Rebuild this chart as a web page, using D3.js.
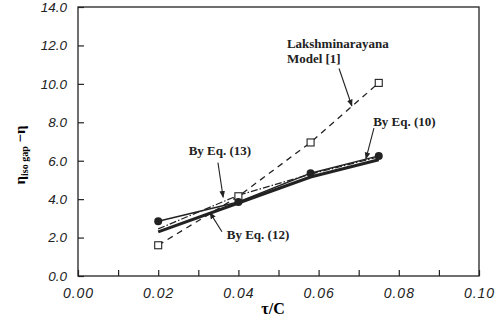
<!DOCTYPE html>
<html>
<head>
<meta charset="utf-8">
<script src="https://cdn.jsdelivr.net/npm/d3@7"></script>
<style>
  body { margin: 0; background: #fff; }
  svg { display: block; }
</style>
</head>
<body>
<div id="chart"></div>
<script>
// tau/C positions of the computed cases
const tau = [0.02, 0.04, 0.058, 0.075];
// eta_iso gap - eta for each model
const lakshmi = [1.6, 4.15, 6.95, 10.05];
const eq10 = [2.85, 3.85, 5.35, 6.25];
const eq12 = [2.3, 3.8, 5.15, 6.05];
const eq13 = [2.45, 4.2, 5.3, 6.2];

const xTicks = [0.00, 0.02, 0.04, 0.06, 0.08, 0.10];
const xMinor = [0.01, 0.03, 0.05, 0.07, 0.09];
const yTicks = [0, 2, 4, 6, 8, 10, 12, 14];

const W = 504, H = 327;
const plot = { left: 78, right: 479, top: 7, bottom: 276 };

const svg = d3.select("#chart").append("svg")
  .attr("width", W)
  .attr("height", H);

const x = d3.scaleLinear().domain([0, 0.1]).range([plot.left, plot.right]);
const y = d3.scaleLinear().domain([0, 14]).range([plot.bottom, plot.top]);

const ink = "#222";

// frame
svg.append("rect")
  .attr("x", plot.left)
  .attr("y", plot.top)
  .attr("width", plot.right - plot.left)
  .attr("height", plot.bottom - plot.top)
  .attr("fill", "none")
  .attr("stroke", ink)
  .attr("stroke-width", 1.3);

// bottom axis, ticks pointing inward
const xAxis = svg.append("g")
  .attr("transform", `translate(0,${plot.bottom})`)
  .call(d3.axisBottom(x)
    .tickValues(xTicks.concat(xMinor))
    .tickSizeInner(-6)
    .tickSizeOuter(0)
    .tickPadding(12)
    .tickFormat(d => xTicks.some(t => Math.abs(t - d) < 1e-9) ? d3.format(".2f")(d) : ""));
xAxis.select(".domain").remove();
xAxis.selectAll("line").attr("stroke", ink).attr("stroke-width", 1.2);
xAxis.selectAll("text")
  .attr("fill", ink)
  .style("font-family", "'Liberation Sans', Arial, sans-serif")
  .style("font-style", "italic")
  .style("font-size", "14px")
  .style("letter-spacing", "1px");

// left axis
const yAxis = svg.append("g")
  .attr("transform", `translate(${plot.left},0)`)
  .call(d3.axisLeft(y)
    .tickValues(yTicks)
    .tickSizeInner(-6)
    .tickSizeOuter(0)
    .tickPadding(11)
    .tickFormat(d3.format(".1f")));
yAxis.select(".domain").remove();
yAxis.selectAll("line").attr("stroke", ink).attr("stroke-width", 1.2);
yAxis.selectAll("text")
  .attr("fill", ink)
  .style("font-family", "'Liberation Sans', Arial, sans-serif")
  .style("font-style", "italic")
  .style("font-size", "13.5px");

// axis titles
svg.append("text")
  .attr("x", 273)
  .attr("y", 314)
  .attr("text-anchor", "middle")
  .style("font-family", "'Liberation Serif', serif")
  .style("font-weight", "bold")
  .style("font-size", "16px")
  .text("τ/C");

const yt = svg.append("text")
  .attr("transform", "translate(25,155) rotate(-90)")
  .attr("text-anchor", "middle")
  .style("font-family", "'Liberation Serif', serif")
  .style("font-weight", "bold")
  .style("font-size", "15px");
yt.append("tspan").text("η");
yt.append("tspan").attr("dy", 3).style("font-size", "10px").text("iso gap");
yt.append("tspan").attr("dy", -3).text(" −η");

// series
const pts = arr => tau.map((t, i) => [t, arr[i]]);
const line = d3.line().x(d => x(d[0])).y(d => y(d[1]));

svg.append("path")
  .attr("d", line(pts(lakshmi)))
  .attr("fill", "none")
  .attr("stroke", ink)
  .attr("stroke-width", 1.3)
  .attr("stroke-dasharray", "6,5");

svg.append("path")
  .attr("d", line(pts(eq12)))
  .attr("fill", "none")
  .attr("stroke", ink)
  .attr("stroke-width", 3);

svg.append("path")
  .attr("d", line(pts(eq13)))
  .attr("fill", "none")
  .attr("stroke", ink)
  .attr("stroke-width", 1.2)
  .attr("stroke-dasharray", "7,2,1.5,2");

svg.append("path")
  .attr("d", line(pts(eq10)))
  .attr("fill", "none")
  .attr("stroke", ink)
  .attr("stroke-width", 1.4);

svg.selectAll("rect.lak")
  .data(pts(lakshmi))
  .join("rect")
  .attr("class", "lak")
  .attr("x", d => x(d[0]) - 3.5)
  .attr("y", d => y(d[1]) - 3.5)
  .attr("width", 7)
  .attr("height", 7)
  .attr("fill", "#fff")
  .attr("stroke", ink)
  .attr("stroke-width", 1.1);

svg.selectAll("circle.eq10")
  .data(pts(eq10))
  .join("circle")
  .attr("class", "eq10")
  .attr("cx", d => x(d[0]))
  .attr("cy", d => y(d[1]))
  .attr("r", 4)
  .attr("fill", ink);

// annotations with arrows (data coordinates)
const notes = [
  { lines: ["Lakshminarayana", "Model [1]"], tx: 0.0521, ty: 11.85, from: [0.0651, 10.8], to: [0.0683, 8.85] },
  { lines: ["By Eq. (10)"], tx: 0.0736, ty: 7.83, from: [0.0738, 7.7], to: [0.0718, 6.1] },
  { lines: ["By Eq. (13)"], tx: 0.0276, ty: 6.3, from: [0.0349, 5.9], to: [0.0362, 4.1] },
  { lines: ["By Eq. (12)"], tx: 0.0371, ty: 1.92, from: [0.0359, 2.3], to: [0.0329, 3.3] }
];

svg.append("defs").append("marker")
  .attr("id", "arrow")
  .attr("viewBox", "0 0 10 10")
  .attr("refX", 9)
  .attr("refY", 5)
  .attr("markerWidth", 7)
  .attr("markerHeight", 7)
  .attr("markerUnits", "userSpaceOnUse")
  .attr("orient", "auto")
  .append("path")
  .attr("d", "M0,1 L10,5 L0,9 Z")
  .attr("fill", ink);

notes.forEach(n => {
  const t = svg.append("text")
    .attr("x", x(n.tx))
    .attr("y", y(n.ty))
    .style("font-family", "'Liberation Serif', serif")
    .style("font-weight", "bold")
    .style("font-size", "13px")
    .attr("fill", ink);
  n.lines.forEach((s, i) => {
    t.append("tspan").attr("x", x(n.tx)).attr("dy", i ? 15 : 0).text(s);
  });
  svg.append("line")
    .attr("x1", x(n.from[0]))
    .attr("y1", y(n.from[1]))
    .attr("x2", x(n.to[0]))
    .attr("y2", y(n.to[1]))
    .attr("stroke", ink)
    .attr("stroke-width", 1.1)
    .attr("marker-end", "url(#arrow)");
});
</script>
</body>
</html>
